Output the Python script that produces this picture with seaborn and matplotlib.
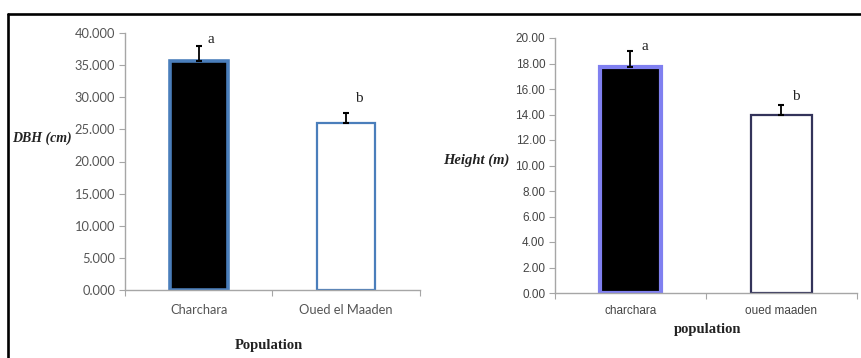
import matplotlib
matplotlib.use("Agg")
import matplotlib.pyplot as plt
from matplotlib.lines import Line2D
import seaborn as sns
import pandas as pd

# Stand characteristics of the two populations
dbh_pops = ["Charchara", "Oued el Maaden"]
dbh_mean = [35.7, 26.0]
dbh_err = [2.2, 1.5]
dbh_letters = ["a", "b"]
dbh_ticks = [0, 5, 10, 15, 20, 25, 30, 35, 40]

height_pops = ["charchara", "oued maaden"]
height_mean = [17.7, 14.0]
height_err = [1.3, 0.75]
height_letters = ["a", "b"]
height_ticks = [0, 2, 4, 6, 8, 10, 12, 14, 16, 18, 20]

sns.set_theme(style="white")
plt.rcParams["font.family"] = ["Lato", "DejaVu Sans"]

W, H = 862, 358
fig = plt.figure(figsize=(W / 100, H / 100), dpi=100)
fig.patch.set_facecolor("white")


def px_axes(x0, x1, y_top, y_bot):
    return fig.add_axes([x0 / W, 1 - y_bot / H, (x1 - x0) / W, (y_bot - y_top) / H])


def style_axes(ax, ticks, fmt, tick_font, size, color, ymax, xpad):
    ax.set_ylim(0, ymax)
    ax.set_xlim(-0.5, 1.5)
    ax.set_yticks(ticks)
    ax.set_yticklabels([fmt.format(t) for t in ticks], family=tick_font,
                       color=color, fontsize=size)
    for s in ("top", "right"):
        ax.spines[s].set_visible(False)
    for s in ("left", "bottom"):
        ax.spines[s].set_color("#a6a6a6")
        ax.spines[s].set_linewidth(1.0)
    ax.tick_params(axis="y", direction="out", length=4, width=0.8,
                   color="#a6a6a6", left=True, pad=3)
    ax.tick_params(axis="x", which="major", length=0, pad=xpad)
    ax.set_xticks([-0.5, 0.5, 1.5], minor=True)
    ax.tick_params(axis="x", which="minor", direction="out", length=4,
                   width=0.8, color="#a6a6a6", bottom=True)
    for lab in ax.get_xticklabels():
        lab.set_family(tick_font)
        lab.set_color(color)
        lab.set_fontsize(size)
    ax.set_xlabel("")
    ax.set_ylabel("")
    ax.set_facecolor("white")


# ---- DBH panel ----
ax1 = px_axes(125, 420, 33, 290)
df1 = pd.DataFrame({"pop": dbh_pops, "val": dbh_mean})
sns.barplot(data=df1, x="pop", y="val", hue="pop", palette=["black", "white"],
            width=0.39, legend=False, ax=ax1, zorder=2)
for patch, lw in zip(ax1.patches, [2.6, 1.6]):
    patch.set_edgecolor("#4a7ebb")
    patch.set_linewidth(lw)
ax1.errorbar(range(len(dbh_pops)), dbh_mean, yerr=[[0, 0], dbh_err], fmt="none",
             ecolor="black", elinewidth=1.3, capsize=2.5, capthick=1.5, zorder=3)
style_axes(ax1, dbh_ticks, "{:.3f}", ["Lato", "DejaVu Sans"], 9.3, "#555555", 40, 10)
for i, (m, e, t, dy) in enumerate(zip(dbh_mean, dbh_err, dbh_letters, [5, 11])):
    ax1.annotate(t, (i, m + e), xytext=(9, dy), textcoords="offset points",
                 ha="center", va="center", family="Liberation Serif",
                 fontsize=11, color="#222222")

fig.text(12 / W, 1 - 138 / H, "DBH (cm)", family="Liberation Serif",
         fontweight="bold", fontstyle="italic", fontsize=10, color="#222222",
         ha="left", va="center")
fig.text(269 / W, 1 - 345 / H, "Population", family="Liberation Serif",
         fontweight="bold", fontsize=10.5, color="#222222",
         ha="center", va="center")

# ---- Height panel ----
ax2 = px_axes(555, 857, 38, 293)
df2 = pd.DataFrame({"pop": height_pops, "val": height_mean})
sns.barplot(data=df2, x="pop", y="val", hue="pop", palette=["black", "white"],
            width=0.40, legend=False, ax=ax2, zorder=2)
for patch, ec, lw in zip(ax2.patches, ["#8080f0", "#33335a"], [3.0, 1.6]):
    patch.set_edgecolor(ec)
    patch.set_linewidth(lw)
ax2.errorbar(range(len(height_pops)), height_mean, yerr=[[0, 0], height_err],
             fmt="none", ecolor="black", elinewidth=1.3, capsize=2.5,
             capthick=1.5, zorder=3)
style_axes(ax2, height_ticks, "{:.2f}", ["Liberation Sans", "DejaVu Sans"],
           8.5, "#444444", 20, 9)
for i, (m, e, t, dy) in enumerate(zip(height_mean, height_err, height_letters, [3, 6])):
    ax2.annotate(t, (i, m + e), xytext=(10, dy), textcoords="offset points",
                 ha="center", va="center", family="Liberation Serif",
                 fontsize=11, color="#222222")

fig.text(443 / W, 1 - 160 / H, "Height (m)", family="Liberation Serif",
         fontweight="bold", fontstyle="italic", fontsize=10.5, color="#222222",
         ha="left", va="center")
fig.text(708 / W, 1 - 329 / H, "population", family="Liberation Serif",
         fontweight="bold", fontsize=10.5, color="#222222",
         ha="center", va="center")

# outer frame (top and left edges)
fig.add_artist(Line2D([8.5 / W, 1.0], [1 - 13.5 / H, 1 - 13.5 / H],
                      color="black", linewidth=1.9, transform=fig.transFigure))
fig.add_artist(Line2D([8.5 / W, 8.5 / W], [0, 1 - 13.5 / H],
                      color="black", linewidth=1.9, transform=fig.transFigure))

fig.savefig("out.png", dpi=100, facecolor="white")
